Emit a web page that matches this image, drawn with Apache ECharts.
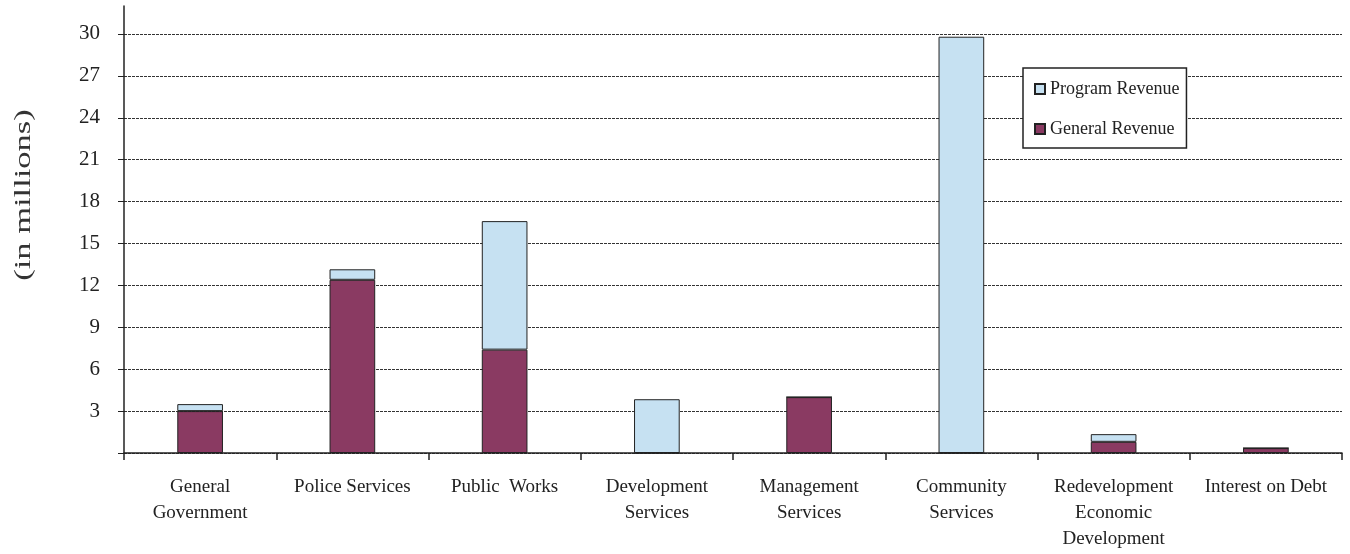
<!DOCTYPE html>
<html>
<head>
<meta charset="utf-8">
<script src="https://cdn.jsdelivr.net/npm/echarts@6/dist/echarts.min.js"></script>
<style>html,body{margin:0;padding:0;background:#fff;}#c{width:1350px;height:554px;}</style>
</head>
<body>
<div id="c"></div>
<script>
const categories = ["General\nGovernment", "Police Services", "Public  Works", "Development\nServices", "Management\nServices", "Community\nServices", "Redevelopment\nEconomic\nDevelopment", "Interest on Debt"];
const generalRevenue = [3.0, 12.4, 7.4, 0, 4.0, 0, 0.8, 0.35];
const programRevenue = [0.5, 0.75, 9.2, 3.85, 0, 29.8, 0.55, 0];
const yTicks = {min: 0, max: 32, interval: 3};
const yAxisTitle = '(in millions)';

const FONT = '"Liberation Serif", "DejaVu Serif", serif';
const chart = echarts.init(document.getElementById('c'));
chart.setOption({
  backgroundColor: '#fff',
  animation: false,
  textStyle: {fontFamily: FONT, color: '#222'},
  grid: {left: 124, right: 8, top: 6, bottom: 101, containLabel: false},
  graphic: [{
    type: 'text',
    x: 24, y: 195,
    rotation: Math.PI / 2,
    scaleX: 1.5, scaleY: 1,
    style: {text: yAxisTitle, fontFamily: FONT, fontSize: 23, fill: '#333', align: 'center', verticalAlign: 'middle'}
  }],
  legend: {
    orient: 'vertical',
    left: 1023, top: 68,
    padding: [12, 7, 10, 11],
    itemGap: 22,
    itemWidth: 10, itemHeight: 10,
    itemTextGap: 6,
    borderColor: '#222', borderWidth: 1.5,
    backgroundColor: '#fff',
    textStyle: {fontFamily: FONT, fontSize: 18, color: '#222'},
    data: [{name: 'Program Revenue', icon: 'rect'}, {name: 'General Revenue', icon: 'rect'}]
  },
  xAxis: {
    type: 'category',
    data: categories,
    axisLine: {lineStyle: {color: '#222', width: 1.5}},
    axisTick: {show: true, length: 7, lineStyle: {color: '#222', width: 1.5}},
    axisLabel: {fontFamily: FONT, fontSize: 19, color: '#222', margin: 21, lineHeight: 26, interval: 0}
  },
  yAxis: {
    type: 'value',
    min: yTicks.min, max: yTicks.max, interval: yTicks.interval,
    axisLine: {show: true, lineStyle: {color: '#222', width: 1.5}},
    axisTick: {show: true, length: 6, lineStyle: {color: '#222', width: 1}},
    axisLabel: {fontFamily: FONT, fontSize: 21, color: '#222', margin: 24, showMaxLabel: false,
      formatter: v => (v === 0 ? '' : String(v))},
    splitLine: {show: true, showMaxLine: false, lineStyle: {color: '#333', width: 1.2, type: [3, 1]}}
  },
  series: [
    {
      name: 'General Revenue', type: 'bar', stack: 'rev',
      data: generalRevenue, barWidth: '30%',
      itemStyle: {color: '#8a3a62', borderColor: '#222', borderWidth: 1}
    },
    {
      name: 'Program Revenue', type: 'bar', stack: 'rev',
      data: programRevenue, barWidth: '30%',
      itemStyle: {color: '#c6e1f2', borderColor: '#222', borderWidth: 1}
    }
  ]
});
</script>
</body>
</html>
